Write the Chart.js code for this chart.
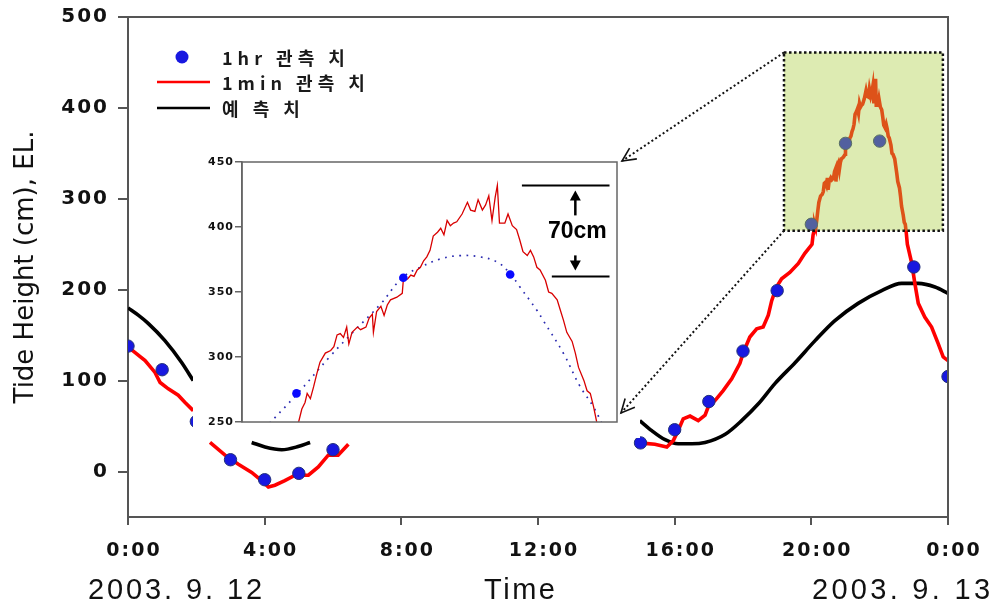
<!DOCTYPE html>
<html><head><meta charset="utf-8">
<script src="https://cdn.jsdelivr.net/npm/chart.js@4.4.0/dist/chart.umd.min.js"></script>
<style>
html,body{margin:0;padding:0;background:#fff;}
#wrap{position:relative;width:995px;height:605px;}
#wrap canvas{position:absolute;left:0;top:0;}
</style></head><body>
<div id="wrap"><canvas id="main" width="995" height="605"></canvas><canvas id="inset" width="995" height="605"></canvas></div>
<script>
// ---------------- data ----------------
const xTickLabels = ['0:00','4:00','8:00','12:00','16:00','20:00','0:00'];
const yTickValues = [0,100,200,300,400,500];
const insetYTicks = [250,300,350,400,450];
const yTitle = 'Tide Height (cm), EL.';
const xTitle = 'Time';
const dateLabels = ['2003. 9. 12', '2003. 9. 13'];

// 1hr observed (hidden hours under the inset are null)
const hourlyTime = [0,1,2,3,4,5,6,7,8,9,10,11,12,13,14,15,16,17,18,19,20,21,22,23,24];
const hourlyObs  = [138,112,55,13,-9,-2,24,null,null,null,null,null,null,null,null,31.5,46,77,132.5,199,272,361,363.5,225,104.5];

// 1min observed
const minuteTime = [0.00,0.20,0.50,0.79,0.94,1.18,1.47,1.67,1.91,2.10,
  2.40,2.84,3.23,3.62,3.91,4.11,4.30,4.59,4.89,5.08,5.28,5.57,5.86,6.15,6.45,10.0,
  14.84,15.13,15.42,15.77,15.96,16.10,16.25,16.45,16.69,16.89,16.98,17.18,17.42,17.67,17.91,18.01,18.20,18.40,18.59,18.74,18.84,18.98,19.13,19.37,19.62,19.81,
  20.02,20.05,20.08,20.10,20.13,20.16,20.19,20.22,20.27,20.32,20.35,20.38,20.41,20.44,20.47,20.49,20.52,20.57,20.60,20.65,20.68,20.71,20.72,20.75,20.79,20.82,20.85,20.88,20.94,20.99,
  21.00,21.04,21.07,21.10,21.13,21.16,21.19,21.22,21.25,21.28,21.32,21.35,21.38,21.41,21.44,21.47,21.50,21.55,21.60,21.63,21.67,21.70,21.74,21.77,21.80,21.83,21.86,21.88,21.90,21.95,21.98,
  22.02,22.06,22.09,22.12,22.16,22.19,22.22,22.25,22.28,22.33,22.36,22.39,22.44,22.47,22.50,22.53,22.58,22.61,22.64,22.69,22.72,22.75,22.78,22.81,
  22.94,23.03,23.13,23.32,23.52,23.71,23.86,24.00];
const minuteObs = [137,131,122,109,98,91,84,76,67,null,
  32,18,8,-1,-10,-17,-15,-10,-4,-4,-4,5,18,18,30,null,
  32,31,30,27,34,45,58,61,56,62,71,78,89,102,119,131,148,157,159,172,188,203,212,219,229,240,
  250,260,265,272,268,277,287,296,303,305,308,317,318,315,323,310,319,323,321,323,330,333,319,335,339,332,340,344,346,349,
  359,360,363,362,367,369,374,377,382,393,396,399,394,405,401,403,404,410,419,413,412,421,413,417,424,405,423,432,403,403,410,
  401,398,390,381,378,382,377,369,367,359,350,349,344,336,328,319,312,303,292,282,274,272,262,250,
  229,207,185,170,159,141,126,122];

// predicted tide (hidden parts under the inset are null)
const predTime = [0.00,0.30,0.59,1.08,1.57,1.91,2.70,3.62,4.01,4.50,4.98,5.33,10.0,
  14.98,15.33,15.72,16.10,16.50,16.89,17.48,17.96,18.45,18.94,19.53,20.11,20.69,21.37,22.06,22.64,23.13,23.62,24.00];
const predVal  = [180,172,163,144,120,100,null,32,27,24,27.5,32,null,
  56,45,35,30.5,30.5,32,41,56,74.5,97,120,144,166,185,199,207,207,203,196];

// inset: dotted curve through the hourly observations
const fitTime = [19.70,20.00,20.32,20.54,20.79,20.99,21.16,21.35,21.53,21.72,21.88,22.00,22.09,22.25,22.31,22.50,22.65,22.78,22.90];
const fitVal  = [245,271,301,320,341,361,369,375.5,378,377,373,364,354,336,328,302.6,278,261.5,242];

// highlighted window on the main chart and inset annotation (data units)
const zoomBoxT = [19.2, 23.85];
const zoomBoxV = [265, 461];
const diffLevels = [362, 432];
const diffLabel = '70cm';

const pts = (ts, vs) => ts.map((t, i) => ({x: t, y: vs[i]}));

function spacedText(ctx, text, font, x, y, targetWidth) {
  ctx.font = font;
  ctx.letterSpacing = '0px';
  const w = ctx.measureText(text).width;
  const sp = Math.max(0, (targetWidth - w) / Math.max(1, text.length - 1));
  ctx.letterSpacing = sp.toFixed(2) + 'px';
  ctx.fillText(text, x, y);
  ctx.letterSpacing = '0px';
}
const noPad = s => { s.paddingTop = 0; s.paddingBottom = 0; s.paddingLeft = 0; s.paddingRight = 0; };

// ---------------- main chart ----------------
const mainDeco = {
  id: 'mainDeco',
  beforeDraw(chart) { chart.ctx.letterSpacing = '2px'; },
  afterDatasetsDraw(chart) {
    const {ctx, scales: {x, y}} = chart;
    const x0 = x.getPixelForValue(zoomBoxT[0]), x1 = x.getPixelForValue(zoomBoxT[1]);
    const y0 = y.getPixelForValue(zoomBoxV[1]), y1 = y.getPixelForValue(zoomBoxV[0]);
    ctx.save();
    ctx.fillStyle = 'rgba(170,205,62,0.4)';
    ctx.fillRect(x0, y0, x1 - x0, y1 - y0);
    ctx.setLineDash([2.5, 2.5]);
    ctx.lineWidth = 2.5;
    ctx.strokeStyle = '#111';
    ctx.strokeRect(x0, y0, x1 - x0, y1 - y0);
    ctx.restore();
  },
  afterDraw(chart) {
    const {ctx, chartArea: a} = chart;
    ctx.save();
    ctx.letterSpacing = '0px';
    ctx.strokeStyle = '#555'; ctx.lineWidth = 2;
    ctx.beginPath(); ctx.moveTo(a.left, a.top); ctx.lineTo(a.right, a.top); ctx.lineTo(a.right, a.bottom); ctx.stroke();
    // legend
    const ds = chart.data.datasets;
    const lx = a.left + 94;
    const rows = [a.top + 40, a.top + 65, a.top + 91];
    ctx.beginPath(); ctx.arc(a.left + 54, rows[0], 6.5, 0, Math.PI * 2);
    ctx.fillStyle = ds[0].pointBackgroundColor; ctx.fill();
    ctx.lineWidth = 2.5;
    ctx.strokeStyle = ds[1].borderColor;
    ctx.beginPath(); ctx.moveTo(a.left + 29, rows[1]); ctx.lineTo(a.left + 82, rows[1]); ctx.stroke();
    ctx.strokeStyle = ds[2].borderColor;
    ctx.beginPath(); ctx.moveTo(a.left + 29, rows[2]); ctx.lineTo(a.left + 82, rows[2]); ctx.stroke();
    ctx.fillStyle = '#1a1a1a';
    ctx.font = 'bold 18px "Noto Sans CJK KR", sans-serif';
    ctx.letterSpacing = '5px';
    ctx.textBaseline = 'middle'; ctx.textAlign = 'left';
    ds.forEach((d, i) => ctx.fillText(d.label, lx, rows[i] + 1));
    ctx.letterSpacing = '0px';
    // y axis title
    ctx.save();
    ctx.translate(33, (a.top + a.bottom) / 2);
    ctx.rotate(-Math.PI / 2);
    ctx.textAlign = 'center'; ctx.textBaseline = 'alphabetic';
    ctx.fillStyle = '#111';
    ctx.font = '26px "DejaVu Sans", sans-serif';
    ctx.fillText(yTitle, 0, 0);
    ctx.restore();
    // bottom texts
    ctx.fillStyle = '#111';
    ctx.textAlign = 'left'; ctx.textBaseline = 'alphabetic';
    const f = '29px "Liberation Sans Narrow", "Liberation Sans", sans-serif';
    spacedText(ctx, dateLabels[0], f, 88, 599, 174);
    spacedText(ctx, xTitle, f, 484, 599, 71);
    spacedText(ctx, dateLabels[1], f, 812, 599, 178);
    ctx.restore();
    ctx.letterSpacing = '0px';
  }
};

const mainChart = new Chart(document.getElementById('main'), {
  type: 'line',
  data: {
    datasets: [
      {label: '1hr 관측 치', data: pts(hourlyTime, hourlyObs), showLine: false,
       pointRadius: 6.2, pointBackgroundColor: '#1818e0', pointBorderColor: '#22307a', pointBorderWidth: 1, order: 0},
      {label: '1min 관측 치', data: pts(minuteTime, minuteObs), borderColor: '#ff0000', borderWidth: 3.6,
       pointRadius: 0, tension: 0, spanGaps: false, order: 1},
      {label: '예 측 치', data: pts(predTime, predVal), borderColor: '#000000', borderWidth: 3.6,
       pointRadius: 0, cubicInterpolationMode: 'monotone', spanGaps: false, order: 2}
    ]
  },
  options: {
    responsive: false, animation: false,
    layout: {padding: {left: 0, top: 17, right: 47, bottom: 0}},
    plugins: {legend: {display: false}, tooltip: {enabled: false}},
    scales: {
      x: {type: 'linear', min: 0, max: 24,
          ticks: {stepSize: 4, autoSkip: false, maxRotation: 0, labelOffset: 6, padding: 15,
                  callback: (v, i) => xTickLabels[i],
                  font: {family: 'DejaVu Sans', weight: 'bold', size: 19}, color: '#111'},
          grid: {drawOnChartArea: false, drawTicks: true, tickLength: 8, color: '#555', lineWidth: 2},
          border: {display: true, color: '#555', width: 2},
          afterFit: s => { s.height = 88; noPad(s); }},
      y: {min: -50, max: 500,
          afterBuildTicks: s => { s.ticks = yTickValues.map(v => ({value: v})); },
          ticks: {padding: 9, font: {family: 'DejaVu Sans', weight: 'bold', size: 20}, color: '#111'},
          grid: {drawOnChartArea: false, drawTicks: true, tickLength: 10, color: '#555', lineWidth: 2},
          border: {display: true, color: '#555', width: 2},
          afterFit: s => { s.width = 128; noPad(s); }}
    }
  },
  plugins: [mainDeco]
});

// ---------------- inset chart ----------------
function dottedArrow(ctx, sx, sy, ex, ey) {
  ctx.save();
  ctx.strokeStyle = '#111'; ctx.lineWidth = 2;
  ctx.setLineDash([2, 2.5]);
  ctx.beginPath(); ctx.moveTo(sx, sy); ctx.lineTo(ex, ey); ctx.stroke();
  ctx.setLineDash([]); ctx.lineWidth = 1.6;
  const ang = Math.atan2(sy - ey, sx - ex);
  const L = 15, w = 0.45;
  ctx.beginPath();
  ctx.moveTo(ex + L * Math.cos(ang + w), ey + L * Math.sin(ang + w));
  ctx.lineTo(ex, ey);
  ctx.lineTo(ex + L * Math.cos(ang - w), ey + L * Math.sin(ang - w));
  ctx.stroke();
  ctx.restore();
}
function solidArrow(ctx, x, yTail, yTip) {
  const dir = Math.sign(yTip - yTail);
  ctx.beginPath(); ctx.moveTo(x, yTail); ctx.lineTo(x, yTip - dir * 8); ctx.stroke();
  ctx.beginPath(); ctx.moveTo(x, yTip); ctx.lineTo(x - 5.5, yTip - dir * 10); ctx.lineTo(x + 5.5, yTip - dir * 10); ctx.closePath(); ctx.fill();
}

const insetDeco = {
  id: 'insetDeco',
  beforeDraw(chart) {
    const {ctx, chartArea: a} = chart;
    ctx.save();
    ctx.fillStyle = '#ffffff';
    ctx.fillRect(a.left - 49, a.top - 12, (a.right + 23) - (a.left - 49), (a.bottom + 16) - (a.top - 12));
    ctx.restore();
    ctx.letterSpacing = '1px';
  },
  afterDraw(chart) {
    const {ctx, chartArea: a, scales: {x, y}} = chart;
    ctx.save();
    ctx.letterSpacing = '0px';
    ctx.strokeStyle = '#666'; ctx.lineWidth = 1.5;
    ctx.strokeRect(a.left, a.top, a.right - a.left, a.bottom - a.top);
    // 70cm annotation
    const yTop = y.getPixelForValue(diffLevels[1]);
    const yBot = y.getPixelForValue(diffLevels[0]);
    ctx.strokeStyle = '#000'; ctx.fillStyle = '#000'; ctx.lineWidth = 2;
    ctx.beginPath(); ctx.moveTo(x.getPixelForValue(22.11), yTop); ctx.lineTo(x.getPixelForValue(22.93), yTop); ctx.stroke();
    ctx.beginPath(); ctx.moveTo(x.getPixelForValue(22.39), yBot); ctx.lineTo(x.getPixelForValue(22.93), yBot); ctx.stroke();
    const ax = x.getPixelForValue(22.61);
    ctx.lineWidth = 2.5;
    solidArrow(ctx, ax, yTop + 30, yTop + 5);
    solidArrow(ctx, ax, yBot - 21, yBot - 6);
    ctx.font = 'bold 23px "Liberation Sans", Arial, sans-serif';
    ctx.textAlign = 'center'; ctx.textBaseline = 'middle';
    ctx.fillText(diffLabel, ax + 2, (yTop + yBot) / 2 + 1);
    // dotted arrows from the highlighted window
    const mx = mainChart.scales.x, my = mainChart.scales.y;
    const sx = mx.getPixelForValue(zoomBoxT[0]);
    dottedArrow(ctx, sx, my.getPixelForValue(zoomBoxV[1]), a.right + 5, a.top - 1);
    dottedArrow(ctx, sx, my.getPixelForValue(zoomBoxV[0]), a.right + 4, a.bottom - 9);
    ctx.restore();
    ctx.letterSpacing = '0px';
  }
};

const insetChart = new Chart(document.getElementById('inset'), {
  type: 'line',
  data: {
    datasets: [
      {data: pts(hourlyTime, hourlyObs), showLine: false, pointRadius: 4.3,
       pointBackgroundColor: '#0a0aff', pointBorderWidth: 0, order: 0},
      {data: pts(minuteTime, minuteObs), borderColor: '#d80000', borderWidth: 1.3,
       pointRadius: 0, tension: 0, spanGaps: false, order: 1},
      {data: pts(fitTime, fitVal), borderColor: '#2a2ab0', borderWidth: 1.7, borderDash: [1.7, 5.5],
       pointRadius: 0, tension: 0.4, order: 2}
    ]
  },
  options: {
    responsive: false, animation: false,
    layout: {padding: {left: 0, top: 162, right: 378, bottom: 183}},
    plugins: {legend: {display: false}, tooltip: {enabled: false}},
    scales: {
      x: {type: 'linear', min: 19.49, max: 23.0, display: false},
      y: {min: 250, max: 450,
          afterBuildTicks: s => { s.ticks = insetYTicks.map(v => ({value: v})); },
          ticks: {padding: 1, font: {family: 'DejaVu Sans', weight: 'bold', size: 11}, color: '#111'},
          grid: {drawOnChartArea: false, drawTicks: true, tickLength: 7, color: '#666', lineWidth: 1.5},
          border: {display: true, color: '#666', width: 1.5},
          afterFit: s => { s.width = 242; noPad(s); }}
    }
  },
  plugins: [insetDeco]
});
</script>
</body></html>
